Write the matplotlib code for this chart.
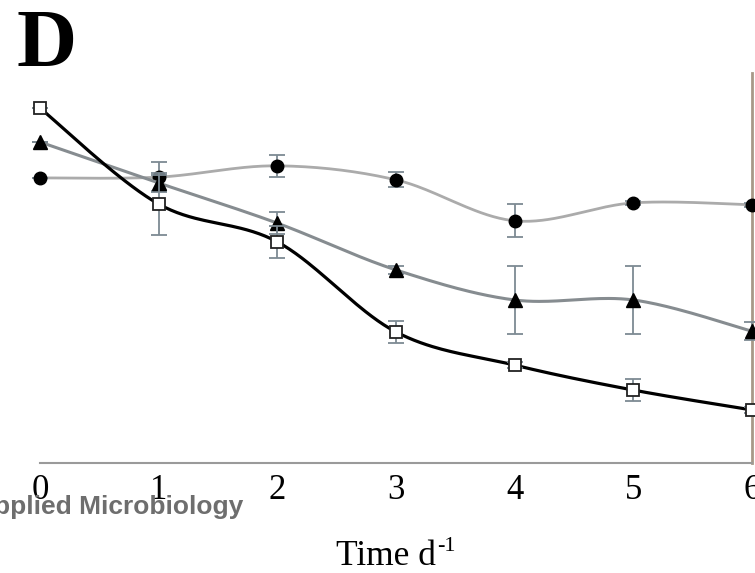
import numpy as np
import matplotlib
matplotlib.use("Agg")
import matplotlib.pyplot as plt

# Sampling days
days = [0, 1, 2, 3, 4, 5, 6]
tick_labels = ["0", "1", "2", "3", "4", "5", "6"]

# Series means and standard deviations
squares = [9.10, 6.64, 5.67, 3.36, 2.51, 1.87, 1.36]
squares_err = [0.0, 0.79, 0.41, 0.28, 0.08, 0.29, 0.08]

triangles = [8.23, 7.18, 6.15, 4.95, 4.18, 4.18, 3.38]
triangles_err = [0.0, 0.20, 0.28, 0.10, 0.87, 0.87, 0.23]

circles = [7.31, 7.33, 7.62, 7.26, 6.21, 6.67, 6.62]
circles_err = [0.0, 0.38, 0.29, 0.19, 0.42, 0.05, 0.05]


def smooth(x, y, n=40):
    """Catmull-Rom curve through the points (spreadsheet-style smoothed line)."""
    x = np.asarray(x, float)
    y = np.asarray(y, float)
    px = np.concatenate([[x[0]], x, [x[-1]]])
    py = np.concatenate([[y[0]], y, [y[-1]]])
    xs, ys = [], []
    t = np.linspace(0, 1, n)
    for i in range(1, len(px) - 2):
        p0, p1, p2, p3 = (np.array([px[j], py[j]]) for j in (i - 1, i, i + 1, i + 2))
        c1 = p1 + (p2 - p0) / 6.0
        c2 = p2 - (p3 - p1) / 6.0
        b = ((1 - t) ** 3)[:, None] * p1 + (3 * (1 - t) ** 2 * t)[:, None] * c1 \
            + (3 * (1 - t) * t ** 2)[:, None] * c2 + (t ** 3)[:, None] * p2
        xs.append(b[:, 0])
        ys.append(b[:, 1])
    return np.concatenate(xs), np.concatenate(ys)


fig = plt.figure(figsize=(7.55, 5.73), dpi=100)
ax = fig.add_axes([40 / 755, 110 / 573, 712 / 755, 390 / 573])

err_color = "#7d8a93"
series = [
    (circles, circles_err, "#ababab", 2.0, dict(marker="o", ms=9, mfc="black", mec="black")),
    (triangles, triangles_err, "#868c90", 2.2, dict(marker="^", ms=10, mfc="black", mec="black")),
    (squares, squares_err, "black", 2.3, dict(marker="s", ms=8.5, mfc="white", mec="#222222", mew=1.3)),
]

z = 2
for vals, errs, lc, lw, mk in series:
    sx, sy = smooth(days, vals)
    ax.plot(sx, sy, color=lc, lw=lw, zorder=z, clip_on=False, solid_capstyle="round")
    ax.errorbar(days, vals, yerr=errs, fmt="none", ecolor=err_color, elinewidth=1.3,
                capsize=5.5, capthick=1.3, zorder=z + 0.5, clip_on=False)
    ax.plot(days, vals, ls="none", zorder=z + 1, clip_on=False, **mk)
    z += 2

ax.set_xlim(0, 6)
ax.set_ylim(0, 10)
ax.set_xticks(days)
ax.set_xticklabels(tick_labels, fontfamily="Liberation Serif", fontsize=25)
ax.tick_params(axis="x", length=0, pad=8)
ax.set_yticks([])

for s in ("left", "top"):
    ax.spines[s].set_visible(False)
ax.spines["bottom"].set_color("#9a9a9a")
ax.spines["bottom"].set_linewidth(1.5)
ax.spines["right"].set_color("#a89888")
ax.spines["right"].set_linewidth(2.0)

# Axis title: "Time d" with a superscript "-1"
label = fig.text(336 / 755, 1 - 565 / 573, "Time d", fontfamily="Liberation Serif",
                 fontsize=25.5, ha="left", va="baseline")
fig.canvas.draw()
bb = label.get_window_extent()
fig.text((bb.x1 + 1) / 755, 1 - 551 / 573, "-1", fontfamily="Liberation Serif",
         fontsize=16, ha="left", va="baseline")

fig.text(17 / 755, 1 - 66 / 573, "D", fontfamily="Liberation Serif", fontweight="bold",
         fontsize=60, ha="left", va="baseline")

fig.text(243 / 755, 1 - 514 / 573, "Applied Microbiology", fontfamily="Liberation Sans",
         fontweight="bold", fontsize=19, color="#6e6e6e", ha="right", va="baseline")

fig.savefig("out.png", dpi=100)
